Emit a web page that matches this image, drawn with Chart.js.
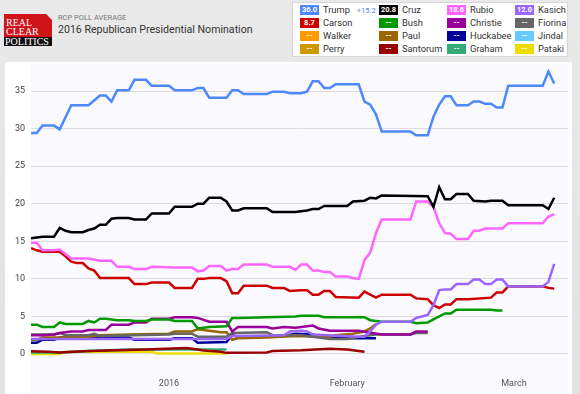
<!DOCTYPE html>
<html>
<head>
<meta charset="utf-8">
<script src="https://cdn.jsdelivr.net/npm/chart.js@4/dist/chart.umd.min.js"></script>
<style>
  html, body { margin: 0; padding: 0; }
  body {
    width: 580px; height: 394px; overflow: hidden; position: relative;
    background: linear-gradient(#e9e9e9, #e2e2e2);
    font-family: Roboto, "Noto Sans", sans-serif;
  }
  #logo { position: absolute; left: 4px; top: 14px; width: 48px; height: 32px; background: #d0121b;
    font-family: "Liberation Serif", "DejaVu Serif", serif; color: #fff; font-size: 10px; line-height: 8.5px; }
  #logo .fold { position: absolute; right: 0; top: 0; width: 0; height: 0;
    border-top: 6px solid #e6e6e6; border-left: 6px solid transparent; }
  #logo .l1 { position: absolute; left: 2px; top: 5px; }
  #logo .l2 { position: absolute; left: 2px; top: 14px; }
  #logo .l3 { position: absolute; left: 0; top: 23px; width: 48px; height: 9px; background: #111; padding-left: 1px; box-sizing: border-box; line-height: 9px; }
  #sub { position: absolute; left: 58px; top: 13px; font-size: 7.5px; color: #777; }
  #title { position: absolute; left: 58px; top: 23px; font-size: 10.6px; color: #333; }
  #legend { position: absolute; left: 292px; top: 2px; width: 274px; height: 53px;
    background: #fff; border: 1px solid #d6d6d6; }
  .item { position: absolute; height: 13px; font-size: 9.3px; color: #333; white-space: nowrap; }
  .box { position: absolute; left: 0; top: 1px; width: 19px; height: 10px; color: #fff; font-size: 7.5px;
    font-weight: bold; text-align: center; line-height: 10px; }
  .name { position: absolute; left: 23px; top: 0; line-height: 12px; }
  .spread { color: #4d88ff; font-size: 7.5px; margin-left: 7px; }
  #panel { position: absolute; left: 5px; top: 62px; width: 567px; height: 332px; background: #fff; }
</style>
</head>
<body>
<div id="logo"><div class="fold"></div><div class="l1">REAL</div><div class="l2">CLEAR</div><div class="l3">POLITICS</div></div>
<div id="sub">RCP POLL AVERAGE</div>
<div id="title">2016 Republican Presidential Nomination</div>
<div id="legend"></div>
<div id="panel"><canvas id="chart"></canvas></div>
<script>
// days counted from Dec 8, 2015 (Jan 1 = 24, Feb 1 = 55, Mar 1 = 84)
const monthTicks = [24, 55, 84];
const monthLabels = ["2016", "February", "March"];
const yTicks = [0, 5, 10, 15, 20, 25, 30, 35];

const names = ["Trump", "Cruz", "Rubio", "Kasich", "Carson", "Bush", "Christie", "Fiorina",
               "Walker", "Paul", "Huckabee", "Jindal", "Perry", "Santorum", "Graham", "Pataki"];
const colors = ["#4d88ff", "#000000", "#ff66ff", "#9966ff", "#cc0000", "#009900", "#990099", "#666666",
                "#ff9900", "#996600", "#000099", "#66ccff", "#cc9900", "#990000", "#33aa77", "#eedd00"];
const legendValues = ["36.0", "20.8", "18.6", "12.0", "8.7", "--", "--", "--",
                      "--", "--", "--", "--", "--", "--", "--", "--"];
const trumpSpread = "+15.2";

const trump = [[0,29.4],[1,29.4],[2,30.4],[4,30.4],[5,29.9],[7,33.1],[10,33.1],[12,34.4],[13,34.4],[14,33.6],
  [15,35.1],[17,35.1],[18,36.5],[20,36.5],[21,35.7],[24,35.7],[25,35.1],[28,35.1],[29,35.4],[30,35.4],
  [31,34.1],[34,34.1],[35,35.1],[36,35.1],[37,34.6],[41,34.6],[42,34.9],[44,34.9],[45,34.7],[47,34.7],
  [48,34.9],[49,36.3],[50,36.3],[51,35.4],[52,35.4],[53,35.9],[57,35.9],[58,33.6],[59,33.2],[60,31.9],
  [61,29.6],[66,29.6],[67,29.1],[69,29.1],[70,31.6],[71,33.2],[72,34.3],[73,34.3],[74,33.1],[76,33.1],
  [77,33.6],[78,33.6],[79,33.3],[80,33.3],[81,32.8],[82,32.8],[83,35.7],[89,35.7],[90,37.6],[91,36.0]];
const cruz = [[0,15.4],[1,15.5],[2,15.6],[4,15.6],[5,16.8],[6,16.4],[7,16.2],[9,16.2],[10,16.5],[11,16.7],
  [12,17.2],[13,17.2],[14,18.0],[15,18.1],[17,18.1],[18,17.9],[20,17.9],[21,18.7],[24,18.7],[25,19.6],
  [28,19.6],[29,20.0],[30,20.0],[31,20.8],[33,20.8],[34,20.3],[35,19.1],[36,19.1],[37,19.4],[41,19.4],
  [42,18.9],[46,18.9],[47,19.0],[48,19.1],[49,19.3],[50,19.3],[51,19.7],[55,19.7],[56,20.3],[58,20.4],
  [59,20.8],[60,20.7],[61,21.1],[69,21.0],[70,19.6],[71,22.2],[72,20.6],[73,20.6],[74,21.3],[76,21.3],
  [77,20.4],[79,20.3],[80,20.4],[82,20.4],[83,19.8],[89,19.8],[90,19.3],[91,20.8]];
const rubio = [[0,14.8],[1,14.8],[2,13.8],[4,13.8],[5,13.9],[7,12.7],[10,12.7],[12,12.4],[14,12.4],[15,11.6],
  [17,11.6],[18,11.3],[20,11.3],[21,11.6],[25,11.5],[28,11.5],[29,11.0],[30,11.1],[31,11.7],[33,11.7],
  [34,11.1],[35,11.3],[36,11.3],[37,11.9],[41,11.9],[42,11.6],[45,11.6],[46,11.2],[47,11.9],[48,11.9],
  [49,11.1],[50,11.1],[51,10.9],[52,10.9],[53,10.3],[55,10.3],[56,10.1],[57,10.0],[58,12.5],[59,13.5],
  [60,16.1],[61,17.9],[66,17.9],[67,20.3],[69,20.3],[70,19.6],[71,17.4],[72,16.1],[73,16.0],[74,15.3],
  [76,15.3],[77,16.4],[78,16.4],[79,16.7],[82,16.7],[83,17.4],[89,17.4],[90,18.3],[91,18.6]];
const kasich = [[0,2.0],[34,2.0],[35,2.4],[44,2.5],[45,3.0],[47,3.1],[48,3.0],[49,2.6],[57,2.3],[58,2.3],
  [59,3.0],[60,3.9],[61,4.3],[66,4.3],[67,4.8],[69,5.2],[70,6.5],[71,8.5],[72,8.6],[73,8.6],[74,9.3],
  [76,9.3],[77,9.9],[78,9.9],[79,9.3],[80,9.3],[81,9.9],[82,9.9],[83,9.0],[89,9.0],[90,9.6],[91,12.0]];
const carson = [[0,14.1],[1,13.8],[2,13.6],[5,13.6],[6,13.0],[7,12.3],[8,12.1],[9,12.1],[10,11.4],[11,11.1],
  [12,10.1],[17,10.1],[18,9.3],[20,9.3],[21,9.5],[24,9.5],[25,8.8],[28,8.8],[29,10.0],[30,10.0],
  [31,10.1],[33,10.1],[34,9.7],[35,8.1],[36,8.1],[37,9.1],[41,9.1],[42,8.8],[44,8.8],[45,8.4],
  [47,8.5],[48,8.5],[49,7.9],[50,7.9],[51,8.4],[52,8.4],[53,7.6],[57,7.5],[58,8.3],[59,7.9],
  [60,7.5],[61,7.9],[66,7.9],[67,7.4],[69,7.3],[70,6.5],[71,6.1],[72,6.6],[73,6.6],[74,7.3],
  [76,7.3],[80,7.5],[81,8.2],[82,8.2],[83,9.0],[89,9.0],[90,8.8],[91,8.7]];
const bush = [[0,3.9],[1,3.9],[2,3.6],[4,3.6],[5,4.2],[6,4.0],[9,4.0],[10,4.4],[11,4.2],[12,4.7],[13,4.7],
  [14,4.6],[15,4.5],[17,4.5],[18,4.4],[20,4.4],[21,4.6],[24,4.6],[25,4.4],[28,4.4],[29,3.4],[31,3.6],
  [34,3.7],[35,4.8],[36,4.8],[46,5.0],[47,5.1],[50,5.1],[51,4.9],[58,4.9],[59,4.5],[61,4.3],[66,4.3],
  [67,4.1],[69,4.2],[70,4.6],[72,5.4],[73,5.4],[74,5.9],[80,5.9],[81,5.8],[82,5.8]];
const christie = [[0,2.5],[2,2.5],[4,2.6],[5,2.8],[7,3.0],[9,3.0],[10,3.2],[13,3.2],[14,3.9],[17,3.9],
  [18,4.2],[20,4.2],[21,4.7],[24,4.7],[25,4.9],[28,4.9],[29,4.8],[31,4.3],[34,4.3],[35,3.0],[36,3.6],
  [41,3.6],[42,3.4],[44,3.6],[46,3.5],[49,3.8],[50,3.4],[52,3.1],[57,3.1],[61,2.6],[66,2.6],[67,3.0],[69,3.0]];
const fiorina = [[0,2.6],[4,2.6],[5,2.8],[6,2.5],[10,2.5],[11,2.7],[12,2.4],[24,2.6],[25,2.7],[28,2.7],
  [29,2.3],[34,2.3],[35,2.8],[41,2.9],[42,2.5],[47,2.5],[52,2.0],[55,2.0],[57,2.3],[60,2.6],[66,2.6],
  [67,2.8],[69,2.8]];
const walker = [];
const paul = [[0,1.9],[1,1.9],[2,2.2],[5,2.2],[10,2.3],[12,2.5],[17,2.6],[24,2.7],[25,3.0],[28,3.0],
  [29,3.3],[33,2.9],[34,2.9],[35,1.9],[36,2.1],[41,2.2],[46,2.4],[52,2.3],[53,2.5],[56,2.7],[58,3.0],
  [59,3.4],[60,4.0]];
const huckabee = [[0,1.5],[1,1.5],[2,1.9],[4,1.9],[5,2.2],[9,2.2],[10,2.3],[11,2.2],[17,2.2],[18,1.9],
  [24,1.9],[25,2.1],[28,2.1],[29,1.5],[34,1.6],[35,2.5],[36,2.3],[44,2.4],[46,2.7],[49,2.6],[51,2.2],
  [53,2.1],[60,2.1]];
const jindal = [];
const perry = [];
const santorum = [[0,0.35],[3,0.3],[5,0.2],[10,0.4],[20,0.6],[27,0.8],[29,0.6],[30,0.45],[33,0.3],
  [34,0.15],[41,0.2],[42,0.4],[47,0.5],[52,0.7],[55,0.6],[58,0.3]];
const graham = [[0,0.2],[5,0.2],[10,0.4],[17,0.6],[34,0.6]];
const pataki = [[0,0.0],[5,0.0],[6,0.3],[21,0.3],[22,0.05],[34,0.05]];

const series = [trump, cruz, rubio, kasich, carson, bush, christie, fiorina,
                walker, paul, huckabee, jindal, perry, santorum, graham, pataki];

// legend (html, like the original page)
const legendEl = document.getElementById("legend");
const colLeft = [7, 86, 154, 222];
names.forEach((name, i) => {
  const item = document.createElement("div");
  item.className = "item";
  item.style.left = colLeft[i % 4] + "px";
  item.style.top = (1 + Math.floor(i / 4) * 13) + "px";
  const box = document.createElement("div");
  box.className = "box";
  box.style.background = colors[i];
  box.textContent = legendValues[i];
  const label = document.createElement("div");
  label.className = "name";
  label.textContent = name;
  if (i === 0) {
    const sp = document.createElement("span");
    sp.className = "spread";
    sp.textContent = trumpSpread;
    label.appendChild(sp);
  }
  item.appendChild(box);
  item.appendChild(label);
  legendEl.appendChild(item);
});

const plotBg = {
  id: "plotBg",
  beforeDraw(chart) {
    const { ctx, chartArea } = chart;
    ctx.save();
    ctx.fillStyle = "#fafafe";
    ctx.fillRect(chartArea.left, chartArea.top, chartArea.right - chartArea.left, chart.height - chartArea.top);
    ctx.restore();
  }
};

// no extra label padding: keep the plot edges where the original has them
function noPad(scale) {
  scale.paddingTop = 0;
  scale.paddingBottom = 0;
  scale.paddingLeft = 0;
  scale.paddingRight = 0;
}

new Chart(document.getElementById("chart"), {
  type: "line",
  data: {
    datasets: series.map((s, i) => ({
      label: names[i],
      data: s.map(p => ({ x: p[0], y: p[1] })),
      borderColor: colors[i],
      backgroundColor: colors[i],
      borderWidth: 2.5,
      pointRadius: 0,
      tension: 0,
      fill: false
    }))
  },
  options: {
    responsive: true,
    maintainAspectRatio: false,
    animation: false,
    layout: { padding: { top: 2, right: 4, left: 0, bottom: 0 } },
    plugins: { legend: { display: false }, tooltip: { enabled: false } },
    scales: {
      x: {
        type: "linear",
        min: 0,
        max: 93.4,
        grid: { display: false, drawTicks: false },
        border: { display: false },
        afterBuildTicks: scale => { scale.ticks = monthTicks.map(v => ({ value: v })); },
        afterFit: scale => { scale.height = 21; noPad(scale); },
        ticks: {
          autoSkip: false, maxRotation: 0, padding: 5,
          color: "#555", font: { family: "Roboto", size: 9 },
          callback: (v, i) => monthLabels[i]
        }
      },
      y: {
        min: -2.53,
        max: 38.6,
        grid: { color: "#dcdcdc", lineWidth: 1, drawTicks: false },
        border: { display: false },
        afterBuildTicks: scale => { scale.ticks = yTicks.map(v => ({ value: v })); },
        afterFit: scale => { scale.width = 26; noPad(scale); },
        ticks: { padding: 6, color: "#444", font: { family: "Roboto", size: 9 } }
      }
    }
  },
  plugins: [plotBg]
});
</script>
</body>
</html>
